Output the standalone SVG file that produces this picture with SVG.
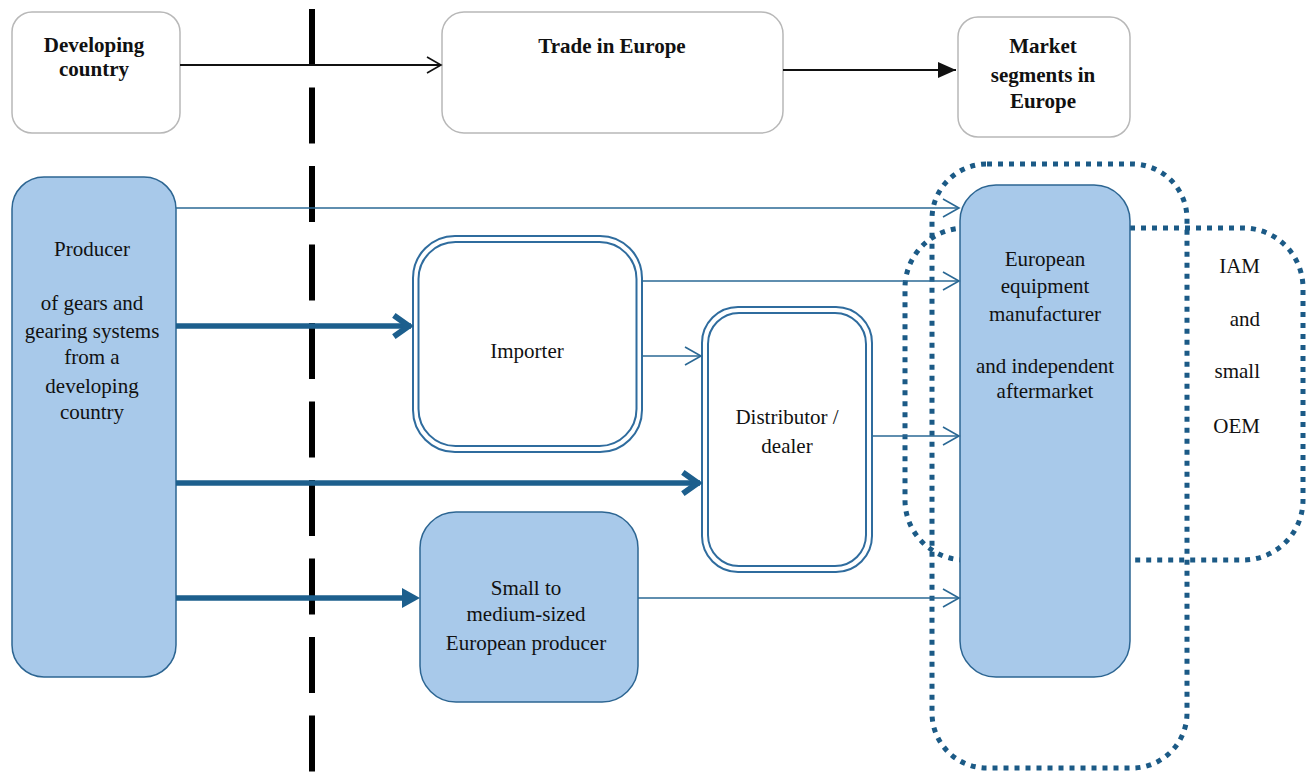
<svg xmlns="http://www.w3.org/2000/svg" width="1310" height="773" viewBox="0 0 1310 773">
<defs>
<style>
text{font-family:"Liberation Serif","Times New Roman",serif;font-size:21px;fill:#111;text-anchor:middle}
.b{font-weight:bold}
.hdr{fill:#fff;stroke:#b8b8b8;stroke-width:1.5}
.blue{fill:#a8c9ea;stroke:#2c6592;stroke-width:1.5}
.dbl{fill:#fff;stroke:#2f6c9e;stroke-width:2}
.dot{fill:none;stroke:#1b5a86;stroke-width:5;stroke-dasharray:5 6}
.thin{stroke:#2a6894;stroke-width:1.6;fill:none}
.thick{stroke:#1d5f8d;stroke-width:5.5;fill:none}
</style>
<marker id="openB" markerWidth="20" markerHeight="20" viewBox="-16 -10 20 20" refX="0" refY="0" markerUnits="userSpaceOnUse" orient="auto">
<path d="M-14,-8 L0,0 L-14,8" fill="none" stroke="#111" stroke-width="1.6"/>
</marker>
<marker id="fillB" markerWidth="24" markerHeight="20" viewBox="-20 -10 22 20" refX="0" refY="0" markerUnits="userSpaceOnUse" orient="auto">
<path d="M-18,-8 L0,0 L-18,8 Z" fill="#111"/>
</marker>
<marker id="openT" markerWidth="24" markerHeight="24" viewBox="-20 -12 22 24" refX="0" refY="0" markerUnits="userSpaceOnUse" orient="auto">
<path d="M-16,-9 L0,0 L-16,9" fill="none" stroke="#2a6894" stroke-width="1.6"/>
</marker>
<marker id="chev" markerWidth="30" markerHeight="30" viewBox="-22 -14 26 28" refX="0" refY="0" markerUnits="userSpaceOnUse" orient="auto">
<path d="M-16,-10 L-2,0 L-16,10" fill="none" stroke="#1d5f8d" stroke-width="5.5" stroke-linejoin="miter"/>
</marker>
<marker id="tri" markerWidth="24" markerHeight="24" viewBox="-20 -12 22 24" refX="0" refY="0" markerUnits="userSpaceOnUse" orient="auto">
<path d="M-16,-9 L0,0 L-16,9 Z" fill="#1d5f8d"/>
</marker>
</defs>
<rect width="1310" height="773" fill="#fff"/>

<g id="divider">
<line x1="312" y1="9" x2="312" y2="773" stroke="#000" stroke-width="6" stroke-dasharray="56 22.5"/>
</g>

<g id="dotted-groups">
<rect x="932" y="164" width="255" height="604" rx="55" class="dot"/>
<rect x="905" y="228" width="398" height="332" rx="60" class="dot"/>
</g>

<g id="node-developing">
<rect x="12" y="12" width="168" height="121" rx="20" class="hdr"/>
<text x="94" y="52" class="b">Developing</text>
<text x="94" y="76" class="b">country</text>
</g>
<g id="node-trade">
<rect x="442" y="12" width="341" height="121" rx="22" class="hdr"/>
<text x="612" y="53" class="b">Trade in Europe</text>
</g>
<g id="node-market">
<rect x="958" y="17" width="172" height="120" rx="20" class="hdr"/>
<text x="1043" y="53" class="b">Market</text>
<text x="1043" y="82" class="b">segments in</text>
<text x="1043" y="108" class="b">Europe</text>
</g>

<g id="node-producer">
<rect x="12" y="177" width="164" height="500" rx="32" class="blue"/>
<text x="92" y="256">Producer</text>
<text x="92" y="310">of gears and</text>
<text x="92" y="338">gearing systems</text>
<text x="92" y="364">from  a</text>
<text x="92" y="393">developing</text>
<text x="92" y="419">country</text>
</g>

<g id="node-importer">
<rect x="413" y="236" width="229" height="216" rx="42" class="dbl"/>
<rect x="418.5" y="242" width="218" height="204" rx="37" class="dbl"/>
<text x="527" y="358">Importer</text>
</g>

<g id="node-distributor">
<rect x="702" y="307" width="170" height="265" rx="36" class="dbl"/>
<rect x="708" y="313" width="158" height="253" rx="31" class="dbl"/>
<text x="787" y="424">Distributor /</text>
<text x="787" y="453">dealer</text>
</g>

<g id="node-small">
<rect x="420" y="512" width="218" height="190" rx="36" class="blue"/>
<text x="526" y="595">Small to</text>
<text x="526" y="621">medium-sized</text>
<text x="526" y="650">European producer</text>
</g>

<g id="node-european">
<rect x="960" y="185" width="170" height="492" rx="36" class="blue"/>
<text x="1045" y="266">European</text>
<text x="1045" y="293">equipment</text>
<text x="1045" y="321">manufacturer</text>
<text x="1045" y="373">and independent</text>
<text x="1045" y="398">aftermarket</text>
</g>

<g id="node-iam">
<text x="1260" y="273" style="text-anchor:end">IAM</text>
<text x="1260" y="326" style="text-anchor:end">and</text>
<text x="1260" y="378" style="text-anchor:end">small</text>
<text x="1260" y="433" style="text-anchor:end">OEM</text>
</g>

<g id="connectors">
<line x1="180" y1="65" x2="441" y2="65" stroke="#111" stroke-width="1.8" marker-end="url(#openB)"/>
<line x1="783" y1="70" x2="956" y2="70" stroke="#111" stroke-width="2.2" marker-end="url(#fillB)"/>
<line x1="176" y1="208" x2="959" y2="208" class="thin" marker-end="url(#openT)"/>
<line x1="642" y1="281" x2="959" y2="281" class="thin" marker-end="url(#openT)"/>
<line x1="642" y1="356" x2="701" y2="356" class="thin" marker-end="url(#openT)"/>
<line x1="872" y1="436" x2="959" y2="436" class="thin" marker-end="url(#openT)"/>
<line x1="638" y1="598" x2="959" y2="598" class="thin" marker-end="url(#openT)"/>
<line x1="176" y1="326" x2="411" y2="326" class="thick" marker-end="url(#chev)"/>
<line x1="176" y1="483" x2="700" y2="483" class="thick" marker-end="url(#chev)"/>
<line x1="176" y1="598" x2="404" y2="598" class="thick"/>
<path d="M402,588 L420,598 L402,608 Z" fill="#1d5f8d"/>
</g>
</svg>
